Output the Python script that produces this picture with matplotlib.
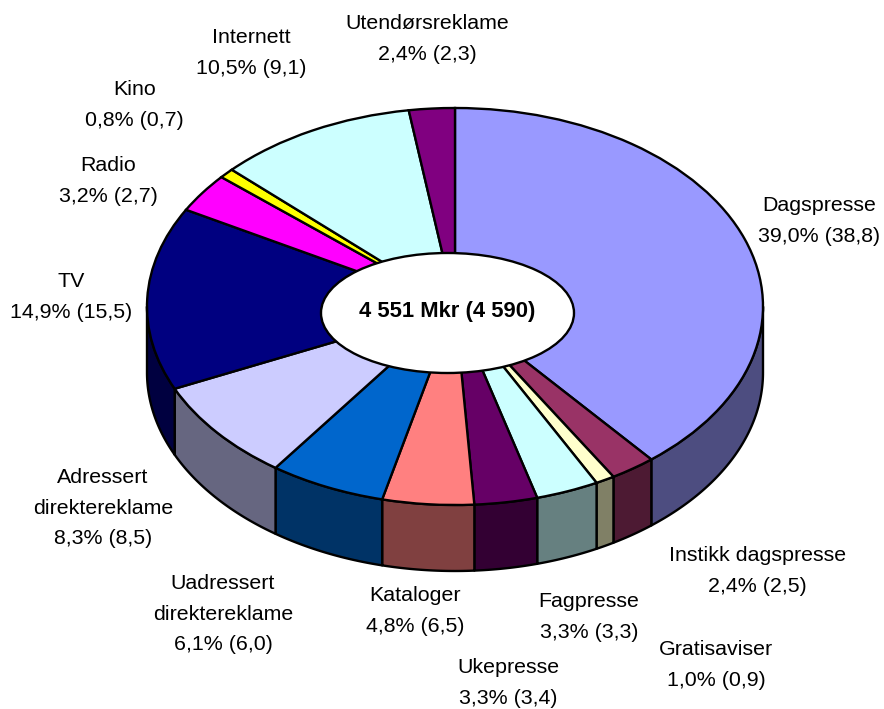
import numpy as np
import matplotlib
matplotlib.use("Agg")
import matplotlib.pyplot as plt
from matplotlib.patches import Ellipse
from matplotlib.colors import to_rgb

plt.rcParams['font.family'] = ['Liberation Sans', 'DejaVu Sans']

names = ['Dagspresse', 'Instikk dagspresse', 'Gratisaviser', 'Fagpresse', 'Ukepresse',
         'Kataloger', 'Uadressert\ndirektereklame', 'Adressert\ndirektereklame', 'TV',
         'Radio', 'Kino', 'Internett', 'Utendørsreklame']
shares = [39.0, 2.4, 1.0, 3.3, 3.3, 4.8, 6.1, 8.3, 14.9, 3.2, 0.8, 10.5, 2.4]
previous = [38.8, 2.5, 0.9, 3.3, 3.4, 6.5, 6.0, 8.5, 15.5, 2.7, 0.7, 9.1, 2.3]
total_now = '4 551'
total_prev = '4 590'

colors = ['#9999FF', '#993366', '#FFFFCC', '#CCFFFF', '#660066', '#FF8080', '#0066CC',
          '#CCCCFF', '#000080', '#FF00FF', '#FFFF00', '#CCFFFF', '#800080']

# label centres in image pixels
label_pos = [(819.5, 221), (757.5, 571), (716, 665), (589, 617), (508, 683), (415, 611), (223, 614),
             (103, 508), (71, 297), (108.5, 181), (134.5, 105), (251, 53), (427, 39)]

W, H = 884, 709
CX, CY, RX, RY = 455, 306.5, 308, 198.5
DEPTH = 66 / RY
FS = 15.4
LW = 1.7

fig = plt.figure(figsize=(W / 100, H / 100), dpi=100)
ax = fig.add_axes([0, 0, 1, 1])


def px(x, y):
    return (x - CX) / RX, (CY - y) / RY


# side walls, only the part of each slice facing the viewer
edges = np.concatenate([[0], np.cumsum(shares)]) / sum(shares) * 2 * np.pi
for i, col in enumerate(colors):
    a0, a1 = max(edges[i], np.pi / 2), min(edges[i + 1], 1.5 * np.pi)
    if a1 <= a0:
        continue
    t = np.linspace(a0, a1, 80)
    x, y = np.sin(t), np.cos(t)
    dark = [c * 0.5 for c in to_rgb(col)]
    ax.fill(np.r_[x, x[::-1]], np.r_[y, y[::-1] - DEPTH], facecolor=dark,
            edgecolor='black', linewidth=LW, joinstyle='round', zorder=1)

ax.pie(shares, colors=colors, startangle=90, counterclock=False, radius=1,
       wedgeprops=dict(edgecolor='black', linewidth=LW, zorder=2))

ax.add_patch(Ellipse(px(447.5, 313), 253 / RX, 120 / RY, facecolor='white',
                     edgecolor='black', linewidth=LW, zorder=3))

ax.set_aspect('auto')
ax.set_xlim(px(0, 0)[0], px(W, 0)[0])
ax.set_ylim(px(0, H)[1], px(0, 0)[1])
ax.axis('off')

for name, s, p, pos in zip(names, shares, previous, label_pos):
    txt = f"{name}\n{s:.1f}% ({p:.1f})".replace('.', ',')
    ax.text(*px(*pos), txt, ha='center', va='center', fontsize=FS, linespacing=1.78,
            color='black', zorder=4)

ax.text(*px(447.5, 312), f"{total_now} Mkr ({total_prev})", ha='center', va='center',
        fontsize=15.8, fontweight='bold', zorder=4)

fig.savefig('out.png', dpi=100)
